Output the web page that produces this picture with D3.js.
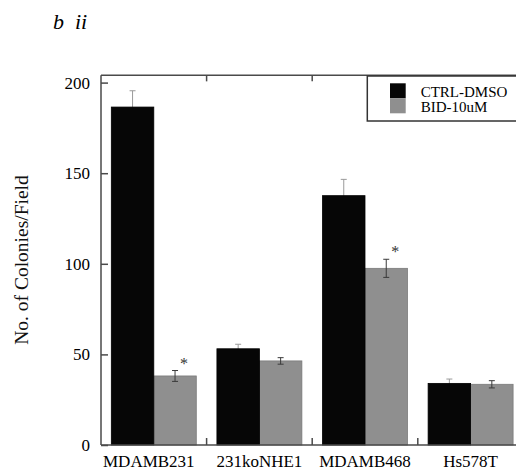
<!DOCTYPE html>
<html>
<head>
<meta charset="utf-8">
<script src="https://cdn.jsdelivr.net/npm/d3@7"></script>
<style>
  body { margin: 0; background: #fff; }
  svg, svg text { font-family: "Liberation Serif", "Times New Roman", Times, "DejaVu Serif", serif !important; }
</style>
</head>
<body>
<svg id="chart" width="516" height="474"></svg>
<script>
// ---- data ----
const categories = ["MDAMB231", "231koNHE1", "MDAMB468", "Hs578T"];
const seriesNames = ["CTRL-DMSO", "BID-10uM"];
const ctrlValues = [186.5, 53.1, 137.6, 34.0];
const ctrlErrors = [9.0, 2.5, 9.0, 2.4];
const bidValues = [38.1, 46.4, 97.5, 33.5];
const bidErrors = [3.0, 1.8, 5.0, 2.0];
const significant = [true, false, true, false];
const yTicks = [0, 50, 100, 150, 200];
const titleText = "b  ii";
const yLabel = "No. of Colonies/Field";

const colors = { "CTRL-DMSO": "#060606", "BID-10uM": "#8f8f8f" };

(function () {
const svg = d3.select("#chart");
const left = 101, right = 523.4, bottom = 445;
const y = d3.scaleLinear().domain([0, 200]).range([bottom, 82.6]);
const yTop = y(204);

const x0 = d3.scaleBand().domain(categories).range([left, right]).paddingInner(0).paddingOuter(0);
const x1 = d3.scaleBand().domain(seriesNames).range([0, x0.bandwidth()]).paddingInner(0).paddingOuter(0.243);

const rows = categories.map((c, i) => ({
  cat: c,
  vals: [
    { s: "CTRL-DMSO", v: ctrlValues[i], e: ctrlErrors[i] },
    { s: "BID-10uM", v: bidValues[i], e: bidErrors[i] }
  ],
  sig: significant[i]
}));

const axisColor = "#4a4a4a";

function drawBars(series) {
  svg.append("g").selectAll("rect")
    .data(rows.map(r => ({ cat: r.cat, d: r.vals.find(v => v.s === series) })))
    .join("rect")
    .attr("x", d => x0(d.cat) + x1(series))
    .attr("y", d => y(d.d.v))
    .attr("width", x1.bandwidth())
    .attr("height", d => y(0) - y(d.d.v))
    .attr("fill", colors[series])
    .attr("stroke", series === "BID-10uM" ? "#7a7a7a" : "#000")
    .attr("stroke-width", 0.8);
}
drawBars("BID-10uM");

// error bars
const errs = [];
rows.forEach(r => r.vals.forEach(v => errs.push({ cat: r.cat, ...v })));
const eg = svg.append("g");
errs.forEach(d => {
  const cx = x0(d.cat) + x1(d.s) + x1.bandwidth() / 2;
  const col = d.s === "CTRL-DMSO" ? "#9a9a9a" : "#3a3a3a";
  const cw = 3;
  eg.append("line").attr("x1", cx).attr("x2", cx).attr("y1", y(d.v - d.e)).attr("y2", y(d.v + d.e))
    .attr("stroke", col).attr("stroke-width", 1);
  eg.append("line").attr("x1", cx - cw).attr("x2", cx + cw).attr("y1", y(d.v + d.e)).attr("y2", y(d.v + d.e))
    .attr("stroke", col).attr("stroke-width", 1);
  eg.append("line").attr("x1", cx - cw).attr("x2", cx + cw).attr("y1", y(d.v - d.e)).attr("y2", y(d.v - d.e))
    .attr("stroke", col).attr("stroke-width", 1);
});

drawBars("CTRL-DMSO");

// significance asterisks
rows.filter(r => r.sig).forEach(r => {
  const d = r.vals[1];
  const cx = x0(r.cat) + x1(d.s) + x1.bandwidth() / 2 + 9;
  svg.append("text").attr("x", cx).attr("y", y(d.v + d.e) - 2)
    .attr("text-anchor", "middle").attr("font-size", 16).attr("fill", "#333").text("*");
});

// frame
const fg = svg.append("g").attr("stroke", axisColor).attr("stroke-width", 1.5).attr("fill", "none");
fg.append("line").attr("x1", left).attr("x2", right).attr("y1", yTop).attr("y2", yTop);
fg.append("line").attr("x1", left).attr("x2", right).attr("y1", bottom).attr("y2", bottom);
fg.append("line").attr("x1", left).attr("x2", left).attr("y1", yTop).attr("y2", bottom);
fg.append("line").attr("x1", right).attr("x2", right).attr("y1", yTop).attr("y2", bottom);

categories.slice(1).forEach(c => {
  const xv = x0(c);
  fg.append("line").attr("x1", xv).attr("x2", xv).attr("y1", yTop).attr("y2", yTop + 6);
  fg.append("line").attr("x1", xv).attr("x2", xv).attr("y1", bottom).attr("y2", bottom - 7);
});

// y axis
const yAxis = d3.axisLeft(y).tickValues(yTicks).tickSize(-7).tickPadding(11);
const yg = svg.append("g").attr("transform", `translate(${left},0)`).call(yAxis);
yg.attr("font-family", null);
yg.select(".domain").remove();
yg.selectAll(".tick line").attr("stroke", axisColor).attr("stroke-width", 1.5);
yg.selectAll(".tick text").attr("font-size", 17).attr("fill", "#000");

// x labels
const xAxis = d3.axisBottom(x0).tickSize(0).tickPadding(10);
const xg = svg.append("g").attr("transform", `translate(0,${bottom})`).call(xAxis);
xg.attr("font-family", null);
xg.select(".domain").remove();
xg.selectAll(".tick text").attr("font-size", 17).attr("fill", "#000")
  .attr("dy", "0.71em").attr("dx", (d, i) => i === 0 ? -5 : 0);

// y label
svg.append("text").attr("transform", "translate(28,260) rotate(-90)")
  .attr("text-anchor", "middle").attr("font-size", 19.5).attr("fill", "#111").text(yLabel);

// title
svg.append("text").attr("x", 53).attr("y", 29).attr("font-size", 22).attr("font-style", "italic")
  .attr("fill", "#000").style("white-space", "pre").text(titleText);

// legend
const lg = svg.append("g");
lg.append("rect").attr("x", 367.3).attr("y", 76).attr("width", 170).attr("height", 45)
  .attr("fill", "#fff").attr("stroke", "#333").attr("stroke-width", 1.5);
seriesNames.forEach((s, i) => {
  lg.append("rect").attr("x", 390).attr("y", 83.3 + i * 15).attr("width", 15.7).attr("height", 15)
    .attr("fill", colors[s]);
  lg.append("text").attr("x", 420.7).attr("y", 96.5 + i * 15).attr("font-size", 15)
    .attr("fill", "#000").text(s);
});
})();
</script>
</body>
</html>
